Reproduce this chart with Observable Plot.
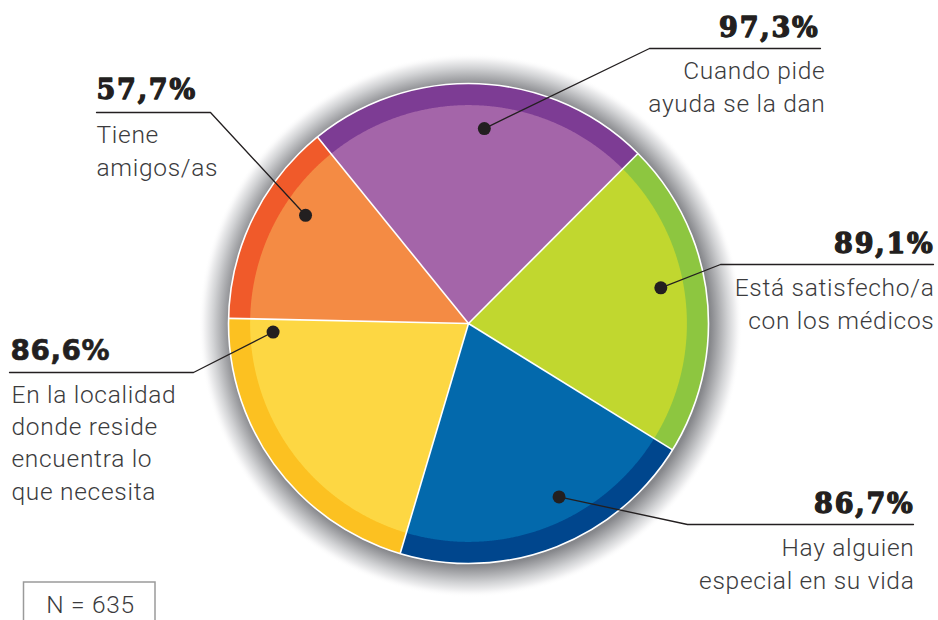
<!DOCTYPE html>
<html>
<head>
<meta charset="utf-8">
<script src="https://cdn.jsdelivr.net/npm/d3@7"></script>
<script src="https://cdn.jsdelivr.net/npm/@observablehq/plot@0.6"></script>
<style>
  html, body { margin: 0; padding: 0; background: #ffffff; }
  #chart { width: 938px; height: 620px; }
</style>
</head>
<body>
<div id="chart"></div>
<script>
// ---------- DATA ----------
const categories = [
  "Cuando pide\nayuda se la dan",
  "Está satisfecho/a\ncon los médicos",
  "Hay alguien\nespecial en su vida",
  "En la localidad\ndonde reside\nencuentra lo\nque necesita",
  "Tiene\namigos/as"
];
const values = [97.3, 89.1, 86.7, 86.6, 57.7];
const valueLabels = ["97,3%", "89,1%", "86,7%", "86,6%", "57,7%"];
const sampleLabel = "N = 635";

// ---------- STYLE ----------
const innerColors = ["#a465a9", "#c1d72f", "#0369ac", "#fdd743", "#f48b44"];
const outerColors = ["#7d3c94", "#8dc640", "#00468d", "#fcc121", "#f05a2a"];
const ink = "#231f20";
const textGray = "#3b3b3d";

// ---------- LAYOUT ----------
const W = 938, H = 620, CX = 468, CY = 323, R = 240;
const INNER = 0.91;          // inner (lighter) part of each slice, fraction of R
const DOT_R = 0.815;         // radius at which the marker dots sit
const START = -39 * Math.PI / 180;
const px = v => (v - CX) / R;   // pixel -> unit x
const py = v => (CY - v) / R;   // pixel -> unit y (y up)

// label layout (pixels): position of dot along slice (t), elbow, end of rule, percent & text anchors
const labelLayout = [
  {t: 0.52, elbow: [649, 48],  end: [820, 48],  pct: [819, 36],  txt: [825, 111], anchor: "end"},
  {t: 0.45, elbow: [720, 264], end: [933, 264], pct: [934, 252], txt: [934, 328], anchor: "end"},
  {t: 0.41, elbow: [687, 524], end: [913, 524], pct: [914, 512], txt: [914, 588], anchor: "end"},
  {t: 0.95, elbow: [193, 372], end: [9, 372],   pct: [10, 359],  txt: [11, 499],  anchor: "start"},
  {t: 0.65, elbow: [210, 112], end: [96, 112],  pct: [96, 98],   txt: [96, 175],  anchor: "start"}
];

// ---------- GEOMETRY FROM VALUES ----------
const rows = categories.map((c, i) => ({i, category: c, value: values[i], label: valueLabels[i]}));
const arcs = d3.pie().sort(null).value(d => d.value)
  .startAngle(START).endAngle(START + 2 * Math.PI)(rows);

function slicePoints(arc, r, colors) {
  const pts = [];
  const a0 = arc.startAngle, a1 = arc.endAngle;
  const n = Math.max(2, Math.ceil((a1 - a0) / (0.25 * Math.PI / 180)));
  pts.push({x: 0, y: 0, k: arc.data.i, fill: colors[arc.data.i]});
  for (let j = 0; j <= n; j++) {
    const a = a0 + (a1 - a0) * j / n;
    pts.push({x: r * Math.sin(a), y: r * Math.cos(a), k: arc.data.i, fill: colors[arc.data.i]});
  }
  pts.push({x: 0, y: 0, k: arc.data.i, fill: colors[arc.data.i]});
  return pts;
}
const outerPts = arcs.flatMap(a => slicePoints(a, 1, outerColors));
const innerPts = arcs.flatMap(a => slicePoints(a, INNER, innerColors));

const separators = arcs.map(a => ({x1: 0, y1: 0, x2: Math.sin(a.startAngle), y2: Math.cos(a.startAngle)}));

const dots = arcs.map(a => {
  const L = labelLayout[a.data.i];
  const ang = a.startAngle + L.t * (a.endAngle - a.startAngle);
  return {i: a.data.i, x: DOT_R * Math.sin(ang), y: DOT_R * Math.cos(ang)};
});

const leaders = dots.flatMap(d => {
  const L = labelLayout[d.i];
  return [
    {k: d.i, x: d.x, y: d.y},
    {k: d.i, x: px(L.elbow[0]), y: py(L.elbow[1])},
    {k: d.i, x: px(L.end[0]), y: py(L.end[1])}
  ];
});

// ---------- MARKS ----------
const marks = [
  // soft grey halo
  Plot.dot([{x: px(CX + 2), y: py(CY + 2)}], {x: "x", y: "y", r: R + 32, fill: "url(#halo)", stroke: "none"}),
  // outer ring (darker) and inner (lighter) slices
  Plot.line(outerPts, {x: "x", y: "y", z: "k", fill: "fill", stroke: "none"}),
  Plot.line(innerPts, {x: "x", y: "y", z: "k", fill: "fill", stroke: "none"}),
  // white separators and outline
  Plot.link(separators, {x1: "x1", y1: "y1", x2: "x2", y2: "y2", stroke: "#ffffff", strokeWidth: 1.6}),
  Plot.dot([{x: 0, y: 0}], {x: "x", y: "y", r: R, fill: "none", stroke: "#ffffff", strokeWidth: 1.6}),
  // leader lines and dots
  Plot.line(leaders, {x: "x", y: "y", z: "k", stroke: ink, strokeWidth: 1.3, fill: "none"}),
  Plot.dot(dots, {x: "x", y: "y", r: 6.5, fill: ink, stroke: "none"})
];

rows.forEach(d => {
  const L = labelLayout[d.i];
  const sans = d.i === 3;
  marks.push(Plot.text([d], {
    x: () => px(L.pct[0]), y: () => py(L.pct[1]), text: "label",
    textAnchor: L.anchor, lineAnchor: "bottom",
    fontFamily: sans ? "DejaVu Sans" : "DejaVu Serif",
    fontWeight: "bold", fontSize: sans ? 28 : 27, fill: ink,
    stroke: ink, strokeWidth: sans ? 0.6 : 1.3
  }));
  marks.push(Plot.text([d], {
    x: () => px(L.txt[0]), y: () => py(L.txt[1]), text: "category",
    textAnchor: L.anchor, lineAnchor: "bottom", lineHeight: 1.31,
    fontFamily: "Roboto", fontWeight: 300, fontSize: 24.5, fill: textGray
  }));
});

// N box
marks.push(Plot.rect([{x1: px(23.5), x2: px(155), y1: py(582), y2: py(640)}],
  {x1: "x1", x2: "x2", y1: "y1", y2: "y2", fill: "none", stroke: "#9a9a9a", strokeWidth: 1.5}));
marks.push(Plot.text([sampleLabel], {
  x: () => px(90), y: () => py(612), text: d => d,
  textAnchor: "middle", lineAnchor: "bottom",
  fontFamily: "Roboto", fontWeight: 300, fontSize: 24.5, fill: textGray
}));

const plot = Plot.plot({
  width: W, height: H,
  margin: 0, marginTop: 0, marginRight: 0, marginBottom: 0, marginLeft: 0,
  x: {domain: [-CX / R, (W - CX) / R], range: [0, W], axis: null},
  y: {domain: [-(H - CY) / R, CY / R], range: [H, 0], axis: null},
  color: {type: "identity"},
  style: {background: "#ffffff", overflow: "hidden"},
  marks
});

// letter spacing to mimic the wider original typefaces
const svg = d3.select(plot);
svg.selectAll('g[font-family="Roboto"]').attr("letter-spacing", "0.7px");
svg.selectAll('g[font-family="DejaVu Serif"]').attr("letter-spacing", "1.8px");
svg.selectAll('g[font-family="DejaVu Sans"]').attr("letter-spacing", "0.5px");

// radial gradient for the halo
const defs = svg.insert("defs", ":first-child");
const grad = defs.append("radialGradient").attr("id", "halo")
  .attr("cx", "50%").attr("cy", "50%").attr("r", "50%");
const f = R / (R + 32);
[[0, "#86878b", 1], [f, "#86878b", 1], [f + 0.03, "#a9aaad", 1], [f + 0.065, "#d2d3d5", 1], [f + 0.095, "#f2f2f3", 1], [1, "#ffffff", 0]]
  .forEach(([o, c, op]) => grad.append("stop").attr("offset", Math.min(1, o)).attr("stop-color", c).attr("stop-opacity", op));

document.getElementById("chart").appendChild(plot);
</script>
</body>
</html>
